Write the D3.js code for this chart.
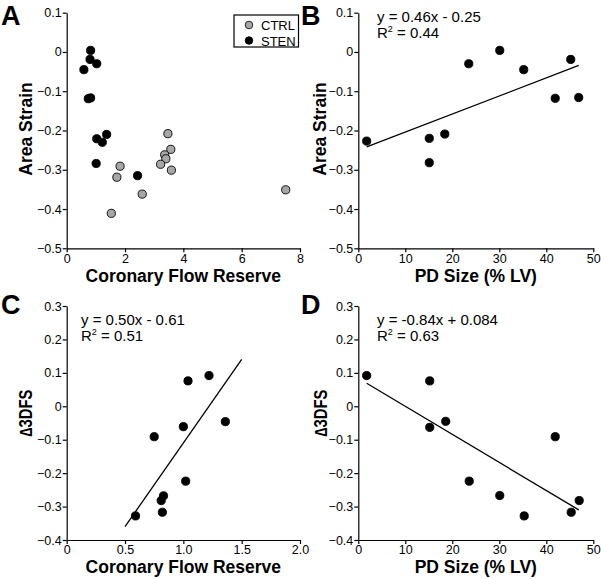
<!DOCTYPE html>
<html>
<head>
<meta charset="utf-8">
<script src="https://cdn.jsdelivr.net/npm/d3@7"></script>
<style>
  body { margin: 0; background: #fff; }
  svg text { font-family: Arial, "Liberation Sans", sans-serif; fill: #000; }
</style>
</head>
<body>
<div id="chart"></div>
<script>
// panel A - CFR vs area strain, two groups
var cfrCtrl    = [3.47, 3.57, 3.36, 3.40, 3.22, 3.59, 1.83, 1.72, 2.59, 1.53, 7.51];
var strainCtrl = [-0.208, -0.248, -0.262, -0.272, -0.286, -0.301, -0.291, -0.319, -0.362, -0.411, -0.351];
var cfrStenA    = [0.82, 0.80, 1.03, 0.59, 0.74, 0.82, 1.03, 1.22, 1.37, 1.01, 2.43];
var strainStenA = [0.004, -0.019, -0.030, -0.045, -0.119, -0.117, -0.221, -0.230, -0.210, -0.284, -0.315];

// panels B and D - perfusion defect size (% LV)
var pdSize   = [1.78, 15.1, 15.1, 18.4, 23.5, 30.1, 35.2, 41.9, 45.2, 46.9];
var strainB  = [-0.227, -0.220, -0.282, -0.209, -0.030, 0.004, -0.045, -0.118, -0.019, -0.116];
var pdSizeD  = [1.78, 15.2, 15.2, 18.6, 23.6, 30.1, 35.3, 41.9, 45.3, 47.0];
var dfsD     = [0.092, 0.076, -0.063, -0.045, -0.224, -0.267, -0.328, -0.091, -0.317, -0.282];

// panel C - CFR vs delta 3DFS
var cfrC = [0.59, 0.75, 0.81, 0.83, 0.82, 1.00, 1.02, 1.04, 1.22, 1.36];
var dfsC = [-0.328, -0.091, -0.282, -0.268, -0.317, -0.061, -0.224, 0.076, 0.092, -0.046];

// regression fits [slope, intercept, xFrom, xTo]
var fitB = [0.0046, -0.25, 1.78, 46.9];
var fitC = [0.50, -0.61, 0.5, 1.5];
var fitD = [-0.0084, 0.084, 1.78, 46.9];

var ticksStrain = [0.1, 0, -0.1, -0.2, -0.3, -0.4, -0.5];
var ticksDfs = [0.3, 0.2, 0.1, 0, -0.1, -0.2, -0.3, -0.4];
var ticksCfrA = [0, 2, 4, 6, 8];
var ticksCfrC = [0, 0.5, 1.0, 1.5, 2.0];
var ticksPd = [0, 10, 20, 30, 40, 50];

var svg = d3.select("#chart").append("svg")
    .attr("width", 601)
    .attr("height", 579);

function fmt1(d) { return d === 0 ? "0" : d3.format(".1f")(d); }
function fmt0(d) { return d3.format("d")(d); }

function panel(o) {
    var x = d3.scaleLinear().domain(o.xDomain).range(o.xRange);
    var y = d3.scaleLinear().domain(o.yDomain).range(o.yRange);
    var g = svg.append("g");

    g.append("g")
        .attr("transform", "translate(0," + o.yRange[0] + ")")
        .call(d3.axisBottom(x).tickValues(o.xTicks).tickFormat(o.xFmt)
            .tickSize(4).tickSizeOuter(0).tickPadding(1.5))
        .call(styleAxis);

    g.append("g")
        .attr("transform", "translate(" + o.xRange[0] + ",0)")
        .call(d3.axisLeft(y).tickValues(o.yTicks).tickFormat(fmt1)
            .tickSize(4).tickSizeOuter(0).tickPadding(1))
        .call(styleAxis);

    // regression line
    if (o.fit) {
        var f = o.fit;
        var pts = [f[2], f[3]].map(function (v) { return [v, f[0] * v + f[1]]; });
        g.append("path")
            .datum(pts)
            .attr("fill", "none")
            .attr("stroke", "#000")
            .attr("stroke-width", 1.3)
            .attr("d", d3.line().x(function (d) { return x(d[0]); }).y(function (d) { return y(d[1]); }));
    }

    o.series.forEach(function (s) {
        g.append("g").selectAll("circle")
            .data(s.xs)
            .join("circle")
            .attr("cx", function (d) { return x(d); })
            .attr("cy", function (d, i) { return y(s.ys[i]); })
            .attr("r", 4.1)
            .attr("fill", s.fill)
            .attr("stroke", "#000")
            .attr("stroke-width", 0.9);
    });

    // titles
    g.append("text")
        .attr("x", o.letterX).attr("y", o.letterY)
        .style("font-size", "27px").style("font-weight", "bold")
        .text(o.letter);

    g.append("text")
        .attr("x", (o.xRange[0] + o.xRange[1]) / 2).attr("y", o.xTitleY)
        .attr("text-anchor", "middle")
        .style("font-size", "17.5px").style("font-weight", "bold")
        .text(o.xTitle);

    var yt = g.append("text")
        .attr("transform", "translate(" + o.yTitleX + "," + o.yTitleY + ") rotate(-90)")
        .attr("text-anchor", "middle")
        .style("font-size", "17.5px").style("font-weight", "bold")
        .text(o.yTitle);
    if (o.yTitleLen) yt.attr("textLength", o.yTitleLen).attr("lengthAdjust", "spacingAndGlyphs");

    if (o.eq) {
        g.append("text")
            .attr("x", o.eqX).attr("y", o.eqY)
            .style("font-size", "15px")
            .text(o.eq);
        var r2 = g.append("text")
            .attr("x", o.eqX).attr("y", o.eqY + 16)
            .style("font-size", "15px");
        r2.append("tspan").text("R");
        r2.append("tspan").attr("dy", -6).style("font-size", "9px").text("2");
        r2.append("tspan").attr("dy", 6).text(" = " + o.r2);
    }
    return { x: x, y: y, g: g };
}

function styleAxis(sel) {
    sel.selectAll("path, line").attr("stroke", "#000").attr("stroke-width", 1.2);
    sel.selectAll("text").style("font-size", "12.5px")
        .style("font-family", "Arial, 'Liberation Sans', sans-serif").attr("fill", "#000");
}

var pa = panel({
    xDomain: [0, 8], xRange: [66.7, 300], yDomain: [-0.5, 0.1], yRange: [248.3, 12.7],
    xTicks: ticksCfrA, xFmt: fmt0, yTicks: ticksStrain,
    series: [
        { xs: cfrCtrl, ys: strainCtrl, fill: "#a6a6a6" },
        { xs: cfrStenA, ys: strainStenA, fill: "#000" }
    ],
    letter: "A", letterX: 1, letterY: 24.5,
    xTitle: "Coronary Flow Reserve", xTitleY: 281.5,
    yTitle: "Area Strain", yTitleX: 32, yTitleY: 129
});

panel({
    xDomain: [0, 50], xRange: [358.3, 593.3], yDomain: [-0.5, 0.1], yRange: [248.3, 12.7],
    xTicks: ticksPd, xFmt: fmt0, yTicks: ticksStrain,
    series: [{ xs: pdSize, ys: strainB, fill: "#000" }],
    fit: fitB,
    letter: "B", letterX: 301, letterY: 24.5,
    xTitle: "PD Size (% LV)", xTitleY: 281.5,
    yTitle: "Area Strain", yTitleX: 326, yTitleY: 129,
    eq: "y = 0.46x - 0.25", r2: "0.44", eqX: 377, eqY: 22
});

panel({
    xDomain: [0, 2], xRange: [66.7, 300], yDomain: [-0.4, 0.3], yRange: [540, 306],
    xTicks: ticksCfrC, xFmt: fmt1, yTicks: ticksDfs,
    series: [{ xs: cfrC, ys: dfsC, fill: "#000" }],
    fit: fitC,
    letter: "C", letterX: 1, letterY: 314,
    xTitle: "Coronary Flow Reserve", xTitleY: 573.3,
    yTitle: "\u22063DFS", yTitleX: 32, yTitleY: 413, yTitleLen: 47,
    eq: "y = 0.50x - 0.61", r2: "0.51", eqX: 81, eqY: 325
});

panel({
    xDomain: [0, 50], xRange: [358.3, 593.3], yDomain: [-0.4, 0.3], yRange: [540, 306],
    xTicks: ticksPd, xFmt: fmt0, yTicks: ticksDfs,
    series: [{ xs: pdSizeD, ys: dfsD, fill: "#000" }],
    fit: fitD,
    letter: "D", letterX: 301, letterY: 314,
    xTitle: "PD Size (% LV)", xTitleY: 573.3,
    yTitle: "\u22063DFS", yTitleX: 327, yTitleY: 413, yTitleLen: 47,
    eq: "y = -0.84x + 0.084", r2: "0.63", eqX: 377, eqY: 325
});

// legend for panel A
var legend = pa.g.append("g").attr("transform", "translate(234,15)");
legend.append("rect")
    .attr("width", 64.5).attr("height", 32)
    .attr("fill", "#fff").attr("stroke", "#000").attr("stroke-width", 1.2);
var legItems = [["CTRL", "#a6a6a6"], ["STEN", "#000"]];
legItems.forEach(function (d, i) {
    legend.append("circle").attr("cx", 15).attr("cy", 10 + i * 15.5).attr("r", 3.8)
        .attr("fill", d[1]).attr("stroke", "#000").attr("stroke-width", 0.8);
    legend.append("text").attr("x", 27).attr("y", 15 + i * 15.5)
        .style("font-size", "13px").text(d[0]);
});
</script>
</body>
</html>
